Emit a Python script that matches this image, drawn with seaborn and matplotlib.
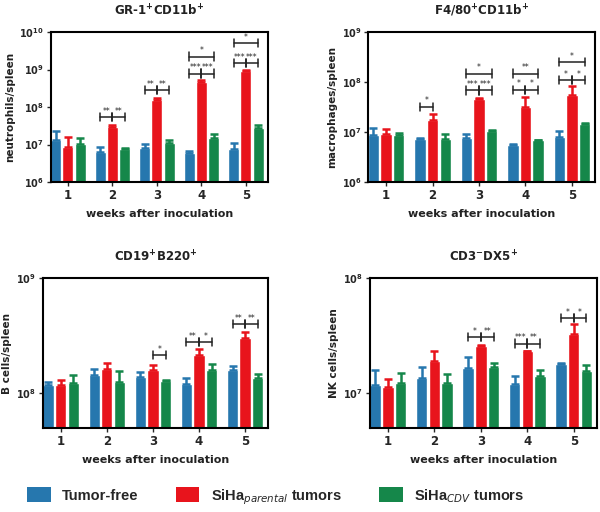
import numpy as np
import pandas as pd
import matplotlib
matplotlib.use("Agg")
import matplotlib.pyplot as plt
from matplotlib.patches import Patch
import seaborn as sns

sns.set_style("white")
plt.rcParams['font.family'] = ['DejaVu Sans']

weeks = ["1", "2", "3", "4", "5"]
groups = ["Tumor-free", "SiHa parental", "SiHa CDV"]
colors = ["#2677ae", "#e8141c", "#15874a"]

# GR-1+CD11b+ neutrophils/spleen
gr_vals = {"Tumor-free": [1.3e7, 6.2e6, 8.0e6, 5.9e6, 7.6e6],
           "SiHa parental": [8.7e6, 2.85e7, 1.5e8, 4.6e8, 9.4e8],
           "SiHa CDV": [1.06e7, 7.5e6, 1.13e7, 1.45e7, 2.7e7]}
gr_err = {"Tumor-free": [2.3e7, 8.8e6, 1.04e7, 6.8e6, 1.1e7],
          "SiHa parental": [1.6e7, 3.4e7, 1.7e8, 5.1e8, 1.0e9],
          "SiHa CDV": [1.5e7, 8.0e6, 1.36e7, 1.9e7, 3.3e7]}

# F4/80+CD11b+ macrophages/spleen
f4_vals = {"Tumor-free": [8.7e6, 7.1e6, 7.7e6, 5.5e6, 8.0e6],
           "SiHa parental": [9.3e6, 1.7e7, 4.6e7, 3.2e7, 5.5e7],
           "SiHa CDV": [8.8e6, 7.2e6, 1.06e7, 6.8e6, 1.43e7]}
f4_err = {"Tumor-free": [1.18e7, 7.6e6, 9.0e6, 5.7e6, 1.06e7],
          "SiHa parental": [1.13e7, 2.27e7, 4.7e7, 4.9e7, 8.4e7],
          "SiHa CDV": [9.7e6, 9.0e6, 1.09e7, 7.0e6, 1.5e7]}

# CD19+B220+ B cells/spleen
cd19_vals = {"Tumor-free": [1.17e8, 1.44e8, 1.39e8, 1.2e8, 1.59e8],
             "SiHa parental": [1.17e8, 1.61e8, 1.59e8, 2.16e8, 3.0e8],
             "SiHa CDV": [1.22e8, 1.26e8, 1.29e8, 1.59e8, 1.35e8]}
cd19_err = {"Tumor-free": [1.25e8, 1.62e8, 1.52e8, 1.35e8, 1.72e8],
            "SiHa parental": [1.3e8, 1.84e8, 1.76e8, 2.42e8, 3.4e8],
            "SiHa CDV": [1.44e8, 1.55e8, 1.3e8, 1.8e8, 1.46e8]}

# CD3-DX5+ NK cells/spleen
nk_vals = {"Tumor-free": [1.17e7, 1.37e7, 1.66e7, 1.2e7, 1.8e7],
           "SiHa parental": [1.14e7, 1.9e7, 2.58e7, 2.32e7, 3.28e7],
           "SiHa CDV": [1.22e7, 1.22e7, 1.68e7, 1.41e7, 1.55e7]}
nk_err = {"Tumor-free": [1.6e7, 1.7e7, 2.08e7, 1.4e7, 1.82e7],
          "SiHa parental": [1.33e7, 2.35e7, 2.62e7, 2.35e7, 3.97e7],
          "SiHa CDV": [1.49e7, 1.47e7, 1.82e7, 1.6e7, 1.76e7]}

# significance brackets: (week index, pair, y, label); pair: 'br' blue-red, 'rg' red-green, 'bg' blue-green
gr_sig = [(1, 'br', 5.4e7, '**'), (1, 'rg', 5.4e7, '**'),
          (2, 'br', 2.8e8, '**'), (2, 'rg', 2.8e8, '**'),
          (3, 'br', 7.8e8, '***'), (3, 'rg', 7.8e8, '***'), (3, 'bg', 2.2e9, '*'),
          (4, 'br', 1.5e9, '***'), (4, 'rg', 1.5e9, '***'), (4, 'bg', 5.1e9, '*')]
f4_sig = [(1, 'br', 3.2e7, '*'),
          (2, 'br', 6.8e7, '***'), (2, 'rg', 6.8e7, '***'), (2, 'bg', 1.47e8, '*'),
          (3, 'br', 7.0e7, '*'), (3, 'rg', 7.0e7, '*'), (3, 'bg', 1.47e8, '**'),
          (4, 'br', 1.1e8, '*'), (4, 'rg', 1.1e8, '*'), (4, 'bg', 2.5e8, '*')]
cd19_sig = [(2, 'rg', 2.14e8, '*'),
            (3, 'br', 2.8e8, '**'), (3, 'rg', 2.8e8, '*'),
            (4, 'br', 4.0e8, '**'), (4, 'rg', 4.0e8, '**')]
nk_sig = [(2, 'br', 3.07e7, '*'), (2, 'rg', 3.07e7, '**'),
          (3, 'br', 2.7e7, '***'), (3, 'rg', 2.7e7, '**'),
          (4, 'br', 4.5e7, '*'), (4, 'rg', 4.5e7, '*')]

panels = [
    dict(title=r'GR-1$^{\mathbf{+}}$CD11b$^{\mathbf{+}}$', ylabel='neutrophils/spleen',
         vals=gr_vals, err=gr_err, sig=gr_sig, ylim=(1e6, 1e10), ticks=[1e6, 1e7, 1e8, 1e9, 1e10],
         rect=[0.085, 0.6445, 0.362, 0.293]),
    dict(title=r'F4/80$^{\mathbf{+}}$CD11b$^{\mathbf{+}}$', ylabel='macrophages/spleen',
         vals=f4_vals, err=f4_err, sig=f4_sig, ylim=(1e6, 1e9), ticks=[1e6, 1e7, 1e8, 1e9],
         rect=[0.614, 0.6445, 0.378, 0.293]),
    dict(title=r'CD19$^{\mathbf{+}}$B220$^{\mathbf{+}}$', ylabel='B cells/spleen',
         vals=cd19_vals, err=cd19_err, sig=cd19_sig, ylim=(5e7, 1e9), ticks=[1e8, 1e9],
         rect=[0.072, 0.164, 0.375, 0.293]),
    dict(title=r'CD3$^{\mathbf{-}}$DX5$^{\mathbf{+}}$', ylabel='NK cells/spleen',
         vals=nk_vals, err=nk_err, sig=nk_sig, ylim=(5e6, 1e8), ticks=[1e7, 1e8],
         rect=[0.617, 0.164, 0.378, 0.293]),
]

fig = plt.figure(figsize=(6, 5.12), dpi=100)

def fmt_tick(v):
    return r'$\mathbf{10^{%d}}$' % int(round(np.log10(v)))

for p in panels:
    ax = fig.add_axes(p['rect'])
    rows = []
    for g in groups:
        for w, v in zip(weeks, p['vals'][g]):
            rows.append(dict(week=w, group=g, value=v))
    df = pd.DataFrame(rows)
    sns.barplot(data=df, x='week', y='value', hue='group', order=weeks, hue_order=groups,
                palette=colors, errorbar=None, width=0.82, gap=0.1, saturation=1,
                legend=False, ax=ax)
    ax.set_yscale('log')
    ax.set_ylim(*p['ylim'])
    ax.set_xlim(-0.38, 4.5)
    # error bars (upper only)
    centers = {}
    for hi, g in enumerate(groups):
        for wi in range(5):
            patch = ax.patches[hi * 5 + wi]
            cx = patch.get_x() + patch.get_width() / 2
            centers[(hi, wi)] = cx
            v = p['vals'][g][wi]
            e = p['err'][g][wi]
            ax.errorbar([cx], [v], yerr=[[0], [max(e - v, 0)]], fmt='none',
                        ecolor=colors[hi], elinewidth=1.8, capsize=3, capthick=1.8, zorder=3)
    # significance brackets
    pairs = {'br': (0, 1), 'rg': (1, 2), 'bg': (0, 2)}
    for wi, pr, y, lab in p['sig']:
        a, b = pairs[pr]
        x1, x2 = centers[(a, wi)], centers[(b, wi)]
        ax.plot([x1, x2], [y, y], color='#222222', lw=1.1, zorder=4)
        fac = (np.log10(p['ylim'][1]) - np.log10(p['ylim'][0])) * 0.028
        ax.plot([x1, x1], [y / 10**fac, y * 10**fac], color='#222222', lw=1.1, zorder=4)
        ax.plot([x2, x2], [y / 10**fac, y * 10**fac], color='#222222', lw=1.1, zorder=4)
        ax.text((x1 + x2) / 2, y * 10**(fac * 0.3), lab, ha='center', va='bottom',
                fontsize=5.5, color='#222222')
    ax.set_yticks(p['ticks'])
    ax.set_yticklabels([fmt_tick(t) for t in p['ticks']], fontsize=7)
    ax.yaxis.set_minor_locator(matplotlib.ticker.NullLocator())
    ax.set_xticks(range(5))
    ax.set_xticklabels(weeks, fontsize=8.5, fontweight='bold')
    ax.tick_params(axis='both', direction='out', length=3, width=1, pad=2, left=True, bottom=True)
    for s in ax.spines.values():
        s.set_linewidth(1.5)
        s.set_color('black')
    ax.set_xlabel('weeks after inoculation', fontsize=8, fontweight='bold', color='#222222', labelpad=5)
    ax.set_ylabel(p['ylabel'], fontsize=7.5, fontweight='bold', color='#222222', labelpad=3)
    ax.set_title(p['title'], fontsize=8.5, fontweight='bold', pad=12, color='#222222')

handles = [Patch(facecolor=c, edgecolor='none') for c in colors]
labels = ['Tumor-free', r'SiHa$_{parental}$ tumors', r'SiHa$_{CDV}$ tumors']
fig.legend(handles, labels, loc='lower center', bbox_to_anchor=(0.46, -0.015), ncol=3,
           frameon=False, prop=dict(family='Liberation Sans', size=10.5, weight='bold'),
           handlelength=1.6, handleheight=1.2, columnspacing=2.55, handletextpad=0.8)

fig.savefig('out.png', dpi=100)
